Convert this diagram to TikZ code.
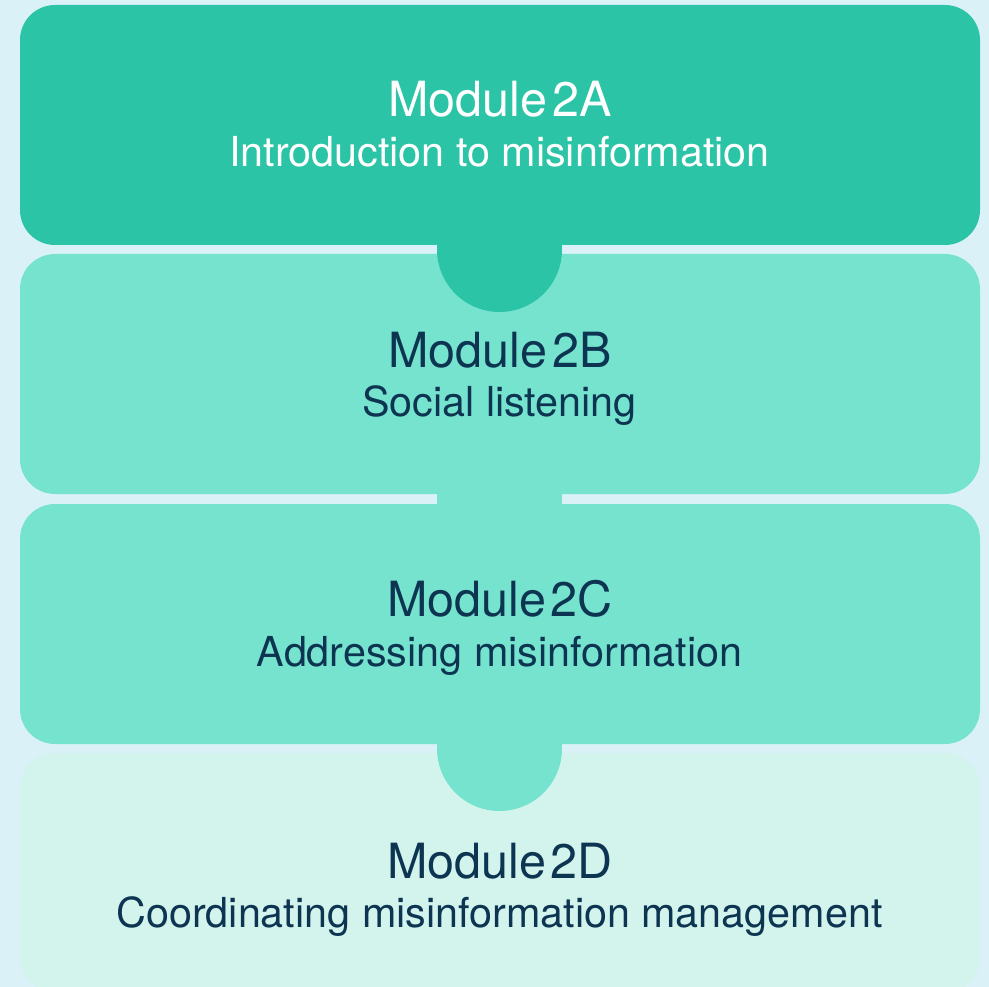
\documentclass[tikz,border=0pt]{standalone}
\usepackage{fontspec}
\setmainfont{TeX Gyre Heros}
\definecolor{bgc}{HTML}{DAF1F8}
\definecolor{cA}{HTML}{2CC4A6}
\definecolor{cB}{HTML}{76E3CF}
\definecolor{cD}{HTML}{D2F4ED}
\definecolor{navy}{HTML}{0D3451}
\tikzset{
  box/.style={rectangle, rounded corners=35pt, minimum width=960pt, minimum height=240pt, inner sep=0pt, draw=none},
  tab/.style={circle, minimum size=125pt, inner sep=0pt, draw=none},
  ttl/.style={anchor=base, inner sep=0pt, font=\fontsize{48.5}{52}\selectfont},
  sub/.style={anchor=base, inner sep=0pt, font=\fontsize{41.3}{45}\selectfont},
}
\begin{document}
\begin{tikzpicture}[x=1pt,y=-1pt]
\useasboundingbox (0,0) rectangle (989,987);
\clip (0,0) rectangle (989,987);
\fill[bgc] (0,0) rectangle (989,987);
% boxes
\node[box, fill=cD] (bD) at (500,873) {};
\node[box, fill=cB] (bC) at (500,624) {};
\node[box, fill=cB] (bB) at (500,374) {};
\node[box, fill=cA] (bA) at (500,125) {};
% connectors
\node[tab, fill=cA] (tAB) at (499.5,249.5) {};
\node[tab, fill=cB] (tBC) at (499.5,499) {};
\node[tab, fill=cB] (tCD) at (499.5,748.5) {};
% texts
\node[ttl, text=white] (tA) at (500,117) {Module\hspace{0.1em}2A};
\node[sub, text=white] (sA) at (499.5,167) {Introduction to misinformation};
\node[ttl, text=navy] (tB) at (500,367) {Module\hspace{0.1em}2B};
\node[sub, text=navy] (sB) at (499.5,417) {Social listening};
\node[ttl, text=navy] (tC) at (500,616) {Module\hspace{0.1em}2C};
\node[sub, text=navy] (sC) at (499.5,666) {Addressing misinformation};
\node[ttl, text=navy] (tD) at (500,878) {Module\hspace{0.1em}2D};
\node[sub, text=navy] (sD) at (499.5,927) {Coordinating misinformation management};
\end{tikzpicture}
\end{document}
